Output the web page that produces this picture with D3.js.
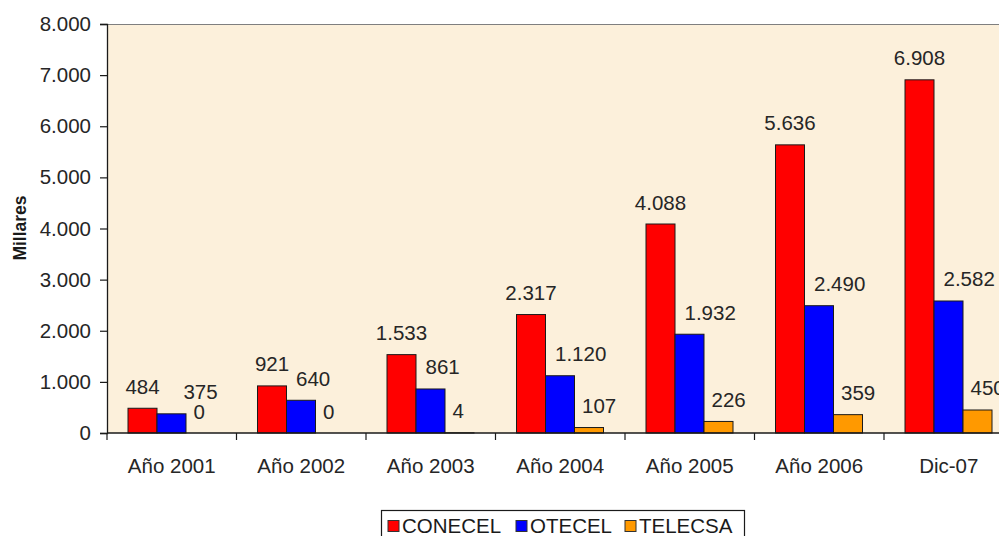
<!DOCTYPE html>
<html>
<head>
<meta charset="utf-8">
<script src="https://cdn.jsdelivr.net/npm/d3@7"></script>
<style>
  html, body { margin: 0; padding: 0; background: #fff; }
  svg { display: block; font-family: "Liberation Sans", Arial, sans-serif; }
</style>
</head>
<body>
<div id="vis"></div>
<script>
// Chart data (thousands of lines)
const categories = ["Año 2001", "Año 2002", "Año 2003", "Año 2004", "Año 2005", "Año 2006", "Dic-07"];
const seriesNames = ["CONECEL", "OTECEL", "TELECSA"];
const conecel = [484, 921, 1533, 2317, 4088, 5636, 6908];
const otecel = [375, 640, 861, 1120, 1932, 2490, 2582];
const telecsa = [0, 0, 4, 107, 226, 359, 450];
const yTicks = [0, 1000, 2000, 3000, 4000, 5000, 6000, 7000, 8000];
const colors = ["#ff0000", "#0000ff", "#ff9900"];

const W = 999, H = 536;
const plot = { left: 107, top: 24, right: 1013.5, bottom: 433 };

const locale = d3.formatLocale({ decimal: ",", thousands: ".", grouping: [3], currency: ["$", ""] });
const fmt = locale.format(",d");

const rows = categories.map((c, i) => ({ cat: c, vals: [conecel[i], otecel[i], telecsa[i]] }));

const svg = d3.select("#vis").append("svg")
  .attr("width", W).attr("height", H);

// scales
const x = d3.scaleBand().domain(categories).range([plot.left, plot.right]).padding(0);
const xs = d3.scaleBand().domain(seriesNames)
  .range([21, x.bandwidth() - 21.5]).padding(0);
const y = d3.scaleLinear().domain([0, 8000]).range([plot.bottom, plot.top]);

// plot background
svg.append("rect")
  .attr("x", plot.left).attr("y", plot.top)
  .attr("width", plot.right - plot.left).attr("height", plot.bottom - plot.top)
  .attr("fill", "#fcf0db");
svg.append("line")
  .attr("x1", plot.left).attr("x2", plot.right)
  .attr("y1", plot.top + 0.5).attr("y2", plot.top + 0.5)
  .attr("stroke", "#7f7f7f").attr("stroke-width", 1.2);

// bars
const groups = svg.selectAll(".grp").data(rows).enter().append("g")
  .attr("class", "grp")
  .attr("transform", d => `translate(${x(d.cat)},0)`);

groups.selectAll("rect").data(d => d.vals.map((v, k) => ({ v, k }))).enter()
  .append("rect")
  .attr("x", d => xs(seriesNames[d.k]))
  .attr("y", d => y(d.v))
  .attr("width", xs.bandwidth())
  .attr("height", d => y(0) - y(d.v))
  .attr("fill", d => colors[d.k])
  .attr("stroke", d => d.v > 0 ? "#1a1a1a" : "none")
  .attr("stroke-width", 1);

// value labels: red centred, others nudged right like the Excel original;
// a blue label crowding the TELECSA label sits right above it
groups.each(function (row) {
  const g = d3.select(this);
  const cx = k => xs(seriesNames[k]) + xs.bandwidth() / 2;
  const base = k => y(row.vals[k]) - 14.5;
  const crowded = base(2) - base(1) < 22;
  row.vals.forEach((v, k) => {
    let tx, anchor;
    if (k === 0) { tx = cx(0); anchor = "middle"; }
    else if (k === 1 && crowded) { tx = cx(2); anchor = "middle"; }
    else if (k === 1) { tx = cx(1) - 5; anchor = "start"; }
    else { tx = cx(2) - 7; anchor = "start"; }
    g.append("text")
      .attr("class", "val")
      .attr("x", tx)
      .attr("y", base(k))
      .attr("text-anchor", anchor)
      .attr("font-size", 20.5)
      .attr("fill", "#262626")
      .text(fmt(v));
  });
});

// y axis
const yAxis = svg.append("g")
  .attr("transform", `translate(${plot.left},0)`)
  .call(d3.axisLeft(y).tickValues(yTicks).tickFormat(fmt).tickSize(7).tickPadding(9));
yAxis.select(".domain").attr("stroke", "#1a1a1a").attr("stroke-width", 1.3);
yAxis.selectAll(".tick line").attr("stroke", "#1a1a1a").attr("stroke-width", 1.2);
yAxis.selectAll(".tick text").attr("font-size", 20.5).attr("fill", "#262626")
  .attr("font-family", "Liberation Sans, Arial, sans-serif");

// x axis
const xAxis = svg.append("g").attr("transform", `translate(0,${plot.bottom})`);
xAxis.append("line")
  .attr("x1", plot.left).attr("x2", plot.right)
  .attr("stroke", "#1a1a1a").attr("stroke-width", 1.3);
xAxis.selectAll(".tk").data(categories.concat(["end"])).enter().append("line")
  .attr("x1", (d, i) => plot.left + i * x.step())
  .attr("x2", (d, i) => plot.left + i * x.step())
  .attr("y1", 0).attr("y2", 7)
  .attr("stroke", "#1a1a1a").attr("stroke-width", 1.2);
xAxis.selectAll(".lbl").data(categories).enter().append("text")
  .attr("x", d => x(d) + x.bandwidth() / 2)
  .attr("y", 40)
  .attr("text-anchor", "middle")
  .attr("font-size", 20.5)
  .attr("fill", "#262626")
  .text(d => d);

// y axis title
svg.append("text")
  .attr("transform", "translate(26,228) rotate(-90)")
  .attr("text-anchor", "middle")
  .attr("font-size", 17.5)
  .attr("font-weight", "bold")
  .attr("fill", "#1a1a1a")
  .text("Millares");

// legend
const legend = svg.append("g");
legend.append("rect")
  .attr("x", 381.5).attr("y", 510.5)
  .attr("width", 363).attr("height", 40)
  .attr("fill", "#fff").attr("stroke", "#1a1a1a").attr("stroke-width", 1.2);
const legX = [388, 516, 625];
const items = legend.selectAll(".li").data(seriesNames).enter().append("g")
  .attr("transform", (d, i) => `translate(${legX[i]},0)`);
items.append("rect")
  .attr("x", 0).attr("y", 520.5).attr("width", 11).attr("height", 11)
  .attr("fill", (d, i) => colors[i]).attr("stroke", "#333").attr("stroke-width", 1);
items.append("text")
  .attr("x", 14).attr("y", 533)
  .attr("font-size", 20.5).attr("fill", "#1a1a1a")
  .text(d => d);
</script>
</body>
</html>
